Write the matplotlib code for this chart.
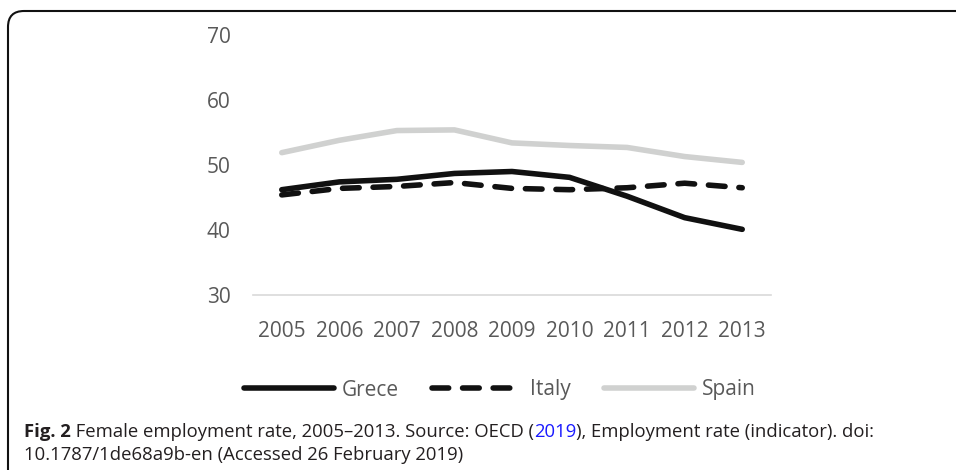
import matplotlib
matplotlib.use("Agg")
import matplotlib.pyplot as plt
from matplotlib.patches import FancyBboxPatch
from matplotlib.transforms import IdentityTransform

years = ["2005", "2006", "2007", "2008", "2009", "2010", "2011", "2012", "2013"]
greece = [46.2, 47.4, 47.8, 48.7, 49.0, 48.1, 45.2, 41.9, 40.1]
italy = [45.4, 46.4, 46.7, 47.3, 46.4, 46.2, 46.5, 47.2, 46.5]
spain = [51.9, 53.8, 55.3, 55.4, 53.4, 53.0, 52.7, 51.3, 50.4]
series_names = ["Grece", "Italy", "Spain"]
yticks = [30, 40, 50, 60, 70]

caption_bold = "Fig. 2"
caption_a = " Female employment rate, 2005\u20132013. Source: OECD ("
caption_link = "2019"
caption_b = "), Employment rate (indicator). doi:"
caption_line2 = "10.1787/1de68a9b-en (Accessed 26 February 2019)"

plt.rcParams['font.family'] = ['Open Sans', 'DejaVu Sans']

W, H = 956, 470
fig = plt.figure(figsize=(W / 100, H / 100), dpi=100)

ax = fig.add_axes([253 / W, (H - 295) / H, 518 / W, 260 / H])
x = list(range(len(years)))
lw = 4.0
ax.plot(x, greece, color="#111111", lw=lw, solid_capstyle="round",
        solid_joinstyle="round", label=series_names[0], zorder=3)
ax.plot(x, italy, color="#111111", lw=lw, dashes=(3.0, 2.5),
        dash_capstyle="round", dash_joinstyle="round", label=series_names[1], zorder=3)
ax.plot(x, spain, color="#d0d1d0", lw=lw, solid_capstyle="round",
        solid_joinstyle="round", label=series_names[2], zorder=2)

ax.set_xlim(-0.5, len(years) - 0.5)
ax.set_ylim(30, 70)
ax.set_yticks(yticks)
ax.set_yticklabels([str(v) for v in yticks])
ax.set_xticks(x)
ax.set_xticklabels(years)
for s in ["top", "right", "left"]:
    ax.spines[s].set_visible(False)
ax.spines["bottom"].set_color("#d9d9d9")
ax.spines["bottom"].set_linewidth(1.2)
ax.tick_params(axis="both", length=0, labelsize=15, labelcolor="#595959")
ax.tick_params(axis="y", pad=16)
ax.tick_params(axis="x", pad=19)
ax.set_facecolor("none")

leg = fig.legend(loc="center", bbox_to_anchor=(500 / W, (H - 390) / H), ncol=3,
                 frameon=False, fontsize=15, handlelength=4.3, handletextpad=0.4,
                 columnspacing=1.6)
for t in leg.get_texts():
    t.set_color("#595959")

# border box
box = FancyBboxPatch((8, -60), 1100, (H - 11) + 60,
                     boxstyle="round,pad=0,rounding_size=16",
                     transform=IdentityTransform(), facecolor="none",
                     edgecolor="#111111", linewidth=1.5, zorder=0)
fig.add_artist(box)

cap_size = 13.3
cap_color = "#231f20"
y1 = (H - 437) / H
y2 = (H - 460) / H
t1 = fig.text(24 / W, y1, caption_bold, fontsize=cap_size, fontweight="bold",
              color=cap_color, va="baseline", ha="left")
t2 = fig.text(0, 0, caption_a, fontsize=cap_size, color=cap_color,
              va="baseline", ha="left")
t3 = fig.text(0, 0, caption_link, fontsize=cap_size, color="#1a1aff",
              va="baseline", ha="left")
t4 = fig.text(0, 0, caption_b, fontsize=cap_size, color=cap_color,
              va="baseline", ha="left")
fig.text(24 / W, y2, caption_line2, fontsize=cap_size, color=cap_color,
         va="baseline", ha="left")

fig.canvas.draw()
r = fig.canvas.get_renderer()
prev = t1
for t in (t2, t3, t4):
    bb = prev.get_window_extent(r)
    t.set_position((bb.x1 / W, y1))
    prev = t
    fig.canvas.draw()

fig.savefig("out.png", dpi=100)
